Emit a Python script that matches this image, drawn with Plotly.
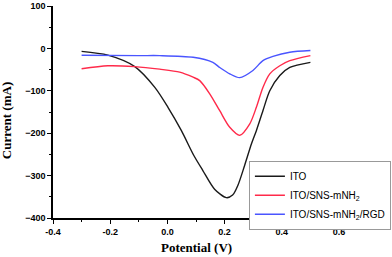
import plotly.graph_objects as go

ito_x = [-0.30, -0.208, -0.114, -0.044, 0.002, 0.049, 0.092, 0.124, 0.165, 0.206, 0.228, 0.247, 0.27, 0.294, 0.311, 0.334, 0.358, 0.393, 0.428, 0.50]
ito_y = [-7, -16, -43, -92, -139, -194, -252, -288, -332, -352, -346, -322, -276, -225, -194, -147, -100, -64, -45, -33]

sns_x = [-0.30, -0.208, -0.114, -0.027, 0.043, 0.09, 0.113, 0.148, 0.183, 0.218, 0.253, 0.288, 0.311, 0.334, 0.358, 0.393, 0.428, 0.50]
sns_y = [-48, -41, -43, -49, -56, -68, -76, -107, -147, -186, -205, -178, -139, -92, -60, -41, -29, -17]

rgd_x = [-0.30, -0.10, -0.027, 0.09, 0.159, 0.183, 0.218, 0.253, 0.299, 0.334, 0.369, 0.428, 0.50]
rgd_y = [-16, -17, -17, -21, -33, -45, -60, -69, -52, -29, -19, -9, -5]

names = ["ITO", "ITO/SNS-mNH<sub>2</sub>", "ITO/SNS-mNH<sub>2</sub>/RGD"]
colors = ["#1a1a1a", "#ff2a4a", "#4a55ff"]

fig = go.Figure()
for xs, ys, n, c in zip([ito_x, sns_x, rgd_x], [ito_y, sns_y, rgd_y], names, colors):
    fig.add_trace(go.Scatter(x=xs, y=ys, mode="lines", name=n,
                             line=dict(color=c, width=1.4, shape="spline", smoothing=0.8)))

tf = dict(family="Liberation Sans", size=9, color="black", weight="bold")
axis_common = dict(showgrid=False, zeroline=False, showline=True, linecolor="black", linewidth=1.5,
                   ticks="outside", ticklen=4, tickwidth=1.2, tickcolor="black",
                   tickfont=tf, automargin=False)
fig.update_layout(
    width=392, height=257,
    margin=dict(l=53, r=53, t=6, b=39, autoexpand=False),
    paper_bgcolor="white", plot_bgcolor="white",
    showlegend=True,
    legend=dict(x=0.685, y=0.27, xanchor="left", yanchor="top",
                bordercolor="#999999", borderwidth=1, bgcolor="white",
                font=dict(family="Liberation Sans", size=10, color="black"),
                itemwidth=30, tracegroupgap=0),
    xaxis=dict(range=[-0.4, 0.6], tickvals=[-0.4, -0.2, 0.0, 0.2, 0.4, 0.6],
               ticktext=["-0.4", "-0.2", "0.0", "0.2", "0.4", "0.6"],
               minor=dict(dtick=0.1, ticks="outside", ticklen=2, tickwidth=1, tickcolor="black"),
               **axis_common),
    yaxis=dict(range=[-400, 100], tickvals=[-400, -300, -200, -100, 0, 100],
               minor=dict(dtick=50, ticks="outside", ticklen=2, tickwidth=1, tickcolor="black"),
               **axis_common),
    annotations=[
        dict(text="<b>Potential (V)</b>", xref="paper", yref="paper", x=0.5, y=-0.14,
             xanchor="center", yanchor="middle", showarrow=False,
             font=dict(family="Liberation Serif", size=13, color="black")),
        dict(text="<b>Current (mA)</b>", xref="paper", yref="paper", x=-0.160, y=0.458,
             xanchor="center", yanchor="middle", showarrow=False, textangle=-90,
             font=dict(family="Liberation Serif", size=13, color="black")),
    ],
)
fig.write_html("out.html", config={"displayModeBar": False},
               post_script="document.body.style.margin='0';")
